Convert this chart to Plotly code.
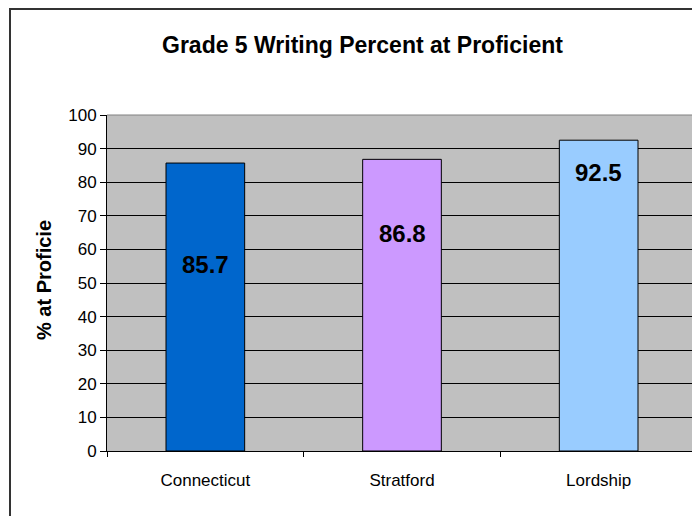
import plotly.graph_objects as go

categories = ["Connecticut", "Stratford", "Lordship"]
values = [85.7, 86.8, 92.5]
value_labels = ["85.7", "86.8", "92.5"]
label_y = [55.4, 64.6, 83.0]
bar_colors = ["#0066CC", "#CC99FF", "#99CCFF"]
y_ticks = list(range(0, 101, 10))

# page body has an 8px margin; positions below are page pixels minus that offset
OFF = 8
W, H = 700, 516
L, T = 107 - OFF, 115 - OFF
PR, PB = 697 - OFF, 451 - OFF
R, B = W - PR, H - PB
pw, ph = PR - L, PB - T

def px(x):
    return (x - OFF - L) / pw

def py(y):
    return (PB - (y - OFF)) / ph

fig = go.Figure()
fig.add_trace(go.Bar(
    x=categories, y=values,
    marker=dict(color=bar_colors, line=dict(color="#000000", width=1)),
    hoverinfo="skip",
))

for c, yv, t in zip(categories, label_y, value_labels):
    fig.add_annotation(x=c, y=yv, text=t, showarrow=False, xref="x", yref="y",
                       font=dict(family="Liberation Sans", size=24, color="#000000", weight="bold"))

fig.add_annotation(text="% at Proficie", textangle=-90, showarrow=False,
                   xref="paper", yref="paper", x=px(44), y=py(342),
                   xanchor="center", yanchor="bottom",
                   font=dict(family="Liberation Sans", size=20, color="#000000", weight="bold"))

fig.add_annotation(text="Grade 5 Writing Percent at Proficient", showarrow=False,
                   xref="paper", yref="paper", x=px(362), y=py(45),
                   xanchor="center", yanchor="middle",
                   font=dict(family="Liberation Sans", size=23, color="#000000", weight="bold"))

# outer chart border (left and top visible)
fig.add_shape(type="line", xref="paper", yref="paper", x0=px(10), x1=px(10), y0=py(9), y1=py(530),
              line=dict(color="#333333", width=2))
fig.add_shape(type="line", xref="paper", yref="paper", x0=px(9), x1=px(720), y0=py(9), y1=py(9),
              line=dict(color="#333333", width=2))

fig.update_layout(
    width=W, height=H,
    margin=dict(l=L, r=R, t=T, b=B),
    paper_bgcolor="#FFFFFF",
    plot_bgcolor="#C0C0C0",
    bargap=0.6,
    showlegend=False,
    font=dict(family="Liberation Sans", color="#000000"),
)
fig.update_xaxes(
    type="category", tickson="boundaries", ticks="outside", ticklen=5,
    tickcolor="#000000", showline=True, linecolor="#000000", linewidth=1,
    mirror=False, showgrid=False, tickfont=dict(size=17, color="#000000"),
    ticklabelstandoff=14,
)
fig.update_yaxes(
    range=[0, 100], tickvals=y_ticks, ticks="outside", ticklen=6, tickcolor="#000000",
    showline=True, linecolor="#000000", linewidth=1, showgrid=True, gridcolor="#000000",
    gridwidth=1, zeroline=False, tickfont=dict(size=17, color="#000000"),
)
# gray plot frame top/right
fig.add_shape(type="line", xref="paper", yref="paper", x0=0, x1=1, y0=1, y1=1,
              line=dict(color="#808080", width=1))
fig.add_shape(type="line", xref="paper", yref="paper", x0=1, x1=1, y0=0, y1=1,
              line=dict(color="#808080", width=1))

fig.write_html("out.html")
